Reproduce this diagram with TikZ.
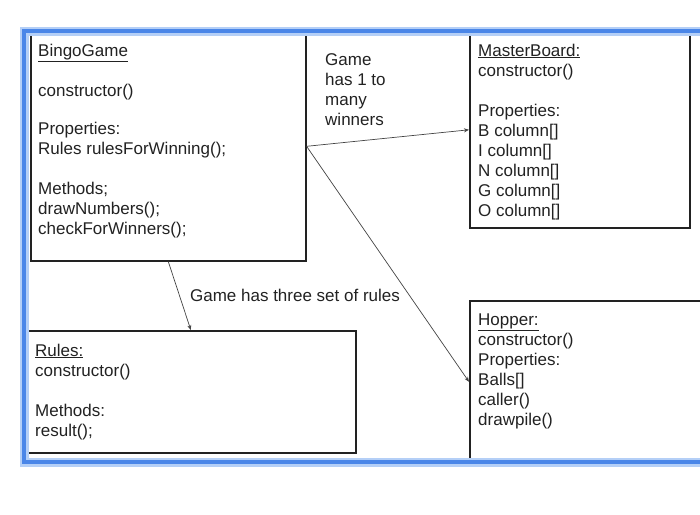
\documentclass[tikz,border=0pt]{standalone}
\usepackage{fontspec}
\setmainfont{Liberation Sans}
\usetikzlibrary{arrows.meta,positioning}
\definecolor{ink}{HTML}{222222}
\definecolor{line}{HTML}{444444}
\definecolor{frameBlue}{HTML}{4A86E8}
\definecolor{frameHalo}{HTML}{B4CFF7}
\tikzset{
  base/.style={font=\fontsize{17}{20}\selectfont, text=ink},
  classbox/.style={draw=ink, line width=1.6pt, fill=white, rectangle, inner sep=0pt},
  members/.style={base, anchor=north west, align=left, inner sep=0pt},
  link/.style={-{Stealth[length=5pt,width=4pt]}, line width=0.7pt, draw=line},
  note/.style={base, align=left, inner sep=0pt},
}

\begin{document}
\begin{tikzpicture}[x=1pt,y=-1pt]
  \useasboundingbox (0,0) rectangle (700,514);
  \clip (0,0) rectangle (700,514);
  \fill[white] (0,0) rectangle (700,514);

  % class boxes
  \node[classbox,anchor=north west,minimum width=275pt,minimum height=229pt] (bingo) at (30,31) {};
  \node[classbox,anchor=north west,minimum width=220pt,minimum height=196pt] (master) at (469,31) {};
  \node[classbox,anchor=north west,minimum width=330pt,minimum height=122pt] (rules) at (25,330) {};
  \node[classbox,anchor=north west,minimum width=260pt,minimum height=162pt] (hopper) at (469,300) {};

  % frame
  \draw[frameHalo,line width=9pt] (24,31) rectangle (730,462);
  \draw[frameBlue,line width=4pt] (24,31) rectangle (730,462);

  % members
  \node[members] (bingoText) at (38,43.5) {\underline{BingoGame}\\[20pt]constructor()\\[18pt]Properties:\\Rules rulesForWinning();\\[20pt]Methods;\\drawNumbers();\\checkForWinners();};
  \node[members] (masterText) at (478,43.5) {\underline{MasterBoard:}\\constructor()\\[20pt]Properties:\\B column[]\\I column[]\\N column[]\\G column[]\\O column[]};
  \node[members] (rulesText) at (35,343.5) {\underline{Rules:}\\constructor()\\[20pt]Methods:\\result();};
  \node[members] (hopperText) at (478,313.5) {\underline{Hopper:}\\constructor()\\Properties:\\Balls[]\\caller()\\drawpile()};

  % associations
  \draw[link] (bingo.east) -- (master.west);
  \draw[link] (bingo.east) -- (hopper.west);
  \draw[link] (bingo.south) -- (rules.north);
  \node[note,anchor=north west] (winners) at (325,53.5) {Game\\has 1 to\\many\\winners};
  \node[note] (threeRules) at (295,295) {Game has three set of rules};
\end{tikzpicture}
\end{document}
